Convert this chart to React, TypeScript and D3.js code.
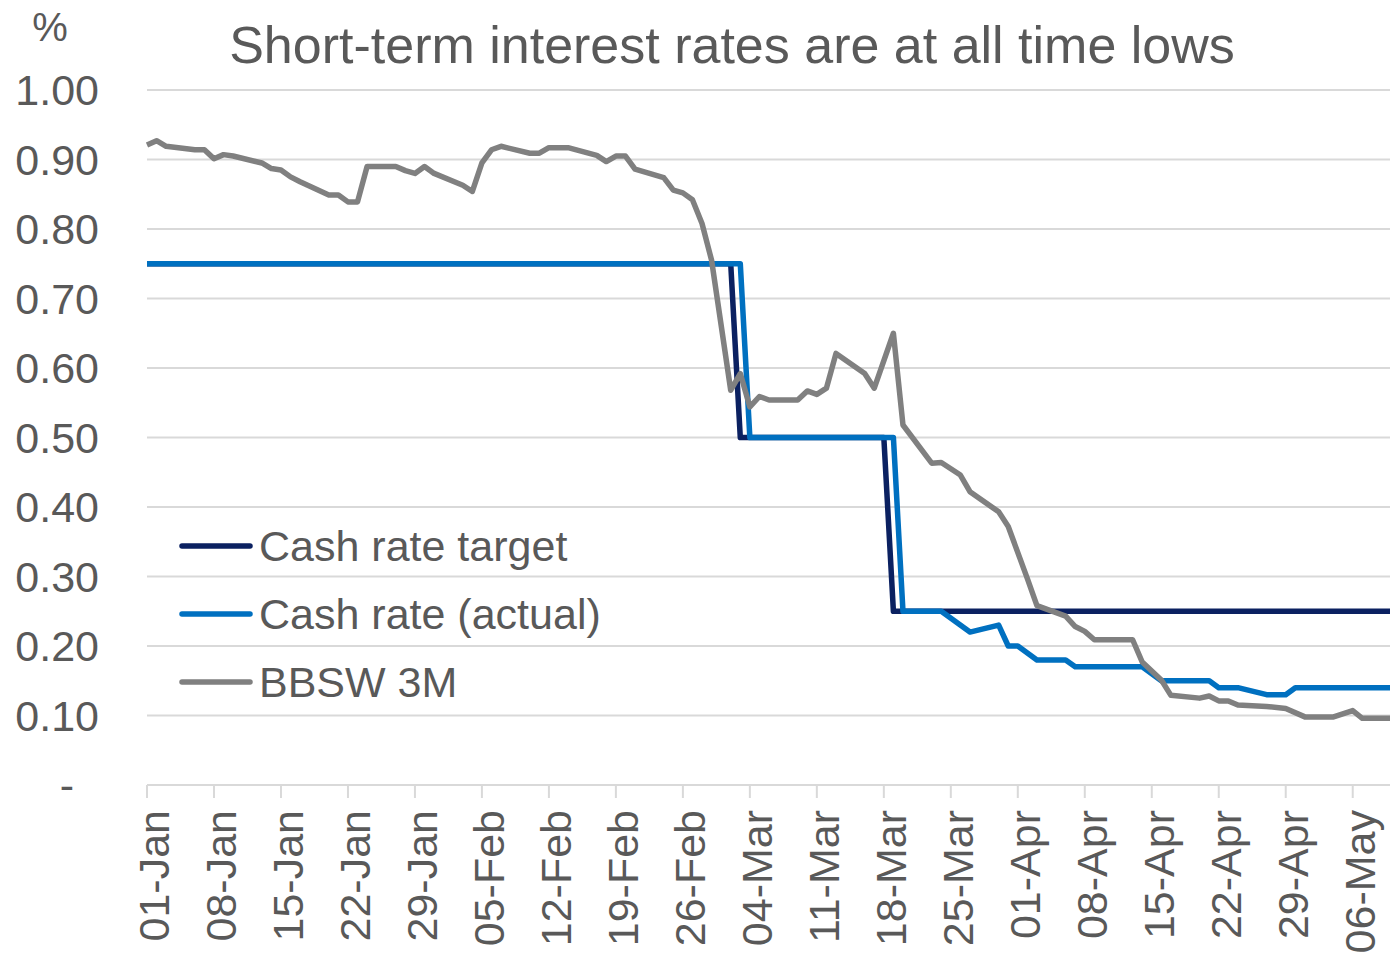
import * as d3 from "d3";

// Cash rate target (RBA)
const targetDates = ["2020-01-01", "2020-03-02", "2020-03-03", "2020-03-18", "2020-03-19", "2020-05-10"];
const targetValues = [0.75, 0.75, 0.5, 0.5, 0.25, 0.25];

// Cash rate (actual)
const actualDates = [
  "2020-01-01", "2020-03-03", "2020-03-04", "2020-03-19", "2020-03-20", "2020-03-24",
  "2020-03-27", "2020-03-30", "2020-03-31", "2020-04-01", "2020-04-03", "2020-04-06",
  "2020-04-07", "2020-04-14", "2020-04-16", "2020-04-21", "2020-04-22", "2020-04-24",
  "2020-04-27", "2020-04-29", "2020-04-30", "2020-05-10",
];
const actualValues = [
  0.75, 0.75, 0.5, 0.5, 0.25, 0.25,
  0.22, 0.23, 0.2, 0.2, 0.18, 0.18,
  0.17, 0.17, 0.15, 0.15, 0.14, 0.14,
  0.13, 0.13, 0.14, 0.14,
];

// BBSW 3M
const bbswDates = [
  "2020-01-01", "2020-01-02", "2020-01-03", "2020-01-06", "2020-01-07", "2020-01-08",
  "2020-01-09", "2020-01-10", "2020-01-13", "2020-01-14", "2020-01-15", "2020-01-16",
  "2020-01-17", "2020-01-20", "2020-01-21", "2020-01-22", "2020-01-23", "2020-01-24",
  "2020-01-27", "2020-01-28", "2020-01-29", "2020-01-30", "2020-01-31", "2020-02-03",
  "2020-02-04", "2020-02-05", "2020-02-06", "2020-02-07", "2020-02-10", "2020-02-11",
  "2020-02-12", "2020-02-14", "2020-02-17", "2020-02-18", "2020-02-19", "2020-02-20",
  "2020-02-21", "2020-02-24", "2020-02-25", "2020-02-26", "2020-02-27", "2020-02-28",
  "2020-02-29", "2020-03-02", "2020-03-03", "2020-03-04", "2020-03-05", "2020-03-06",
  "2020-03-09", "2020-03-10", "2020-03-11", "2020-03-12", "2020-03-13", "2020-03-16",
  "2020-03-17", "2020-03-19", "2020-03-20", "2020-03-23", "2020-03-24", "2020-03-26",
  "2020-03-27", "2020-03-30", "2020-03-31", "2020-04-02", "2020-04-03", "2020-04-06",
  "2020-04-07", "2020-04-08", "2020-04-09", "2020-04-13", "2020-04-14", "2020-04-16",
  "2020-04-17", "2020-04-20", "2020-04-21", "2020-04-22", "2020-04-23", "2020-04-24",
  "2020-04-27", "2020-04-29", "2020-05-01", "2020-05-04", "2020-05-06", "2020-05-07",
  "2020-05-10",
];
const bbswValues = [
  0.921, 0.927, 0.919, 0.914, 0.914, 0.901,
  0.907, 0.905, 0.895, 0.887, 0.885, 0.875,
  0.868, 0.849, 0.849, 0.839, 0.839, 0.89,
  0.89, 0.884, 0.88, 0.89, 0.88, 0.863,
  0.854, 0.895, 0.914, 0.919, 0.909, 0.909,
  0.917, 0.917, 0.906, 0.897, 0.905, 0.905,
  0.886, 0.874, 0.856, 0.852, 0.842, 0.808,
  0.755, 0.568, 0.592, 0.544, 0.559, 0.554,
  0.554, 0.567, 0.562, 0.571, 0.621, 0.592,
  0.571, 0.65, 0.518, 0.463, 0.464, 0.446,
  0.422, 0.393, 0.372, 0.297, 0.258, 0.243,
  0.228, 0.221, 0.209, 0.209, 0.177, 0.151,
  0.129, 0.125, 0.128, 0.121, 0.121, 0.115,
  0.113, 0.11, 0.098, 0.098, 0.107, 0.096,
  0.096,
];

const tickLabels = [
  "01-Jan", "08-Jan", "15-Jan", "22-Jan", "29-Jan", "05-Feb", "12-Feb", "19-Feb", "26-Feb",
  "04-Mar", "11-Mar", "18-Mar", "25-Mar", "01-Apr", "08-Apr", "15-Apr", "22-Apr", "29-Apr", "06-May",
];
const yTicks = [0, 0.1, 0.2, 0.3, 0.4, 0.5, 0.6, 0.7, 0.8, 0.9, 1.0];

const seriesNames = ["Cash rate target", "Cash rate (actual)", "BBSW 3M"];
const seriesColors = ["#0b2161", "#0070c0", "#808080"];

const FONT = "'Liberation Sans', Arial, sans-serif";
const TEXT = "#595959";
const GRID = "#d9d9d9";

const parse = d3.timeParse("%Y-%m-%d");
const parseTick = d3.timeParse("%d-%b-%Y");

export default function App() {
  const width = 1390;
  const height = 955;

  const x = d3.scaleTime()
    .domain([parse("2020-01-01")!, parse("2020-05-10")!])
    .range([147, 1391]);
  const y = d3.scaleLinear().domain([0, 1]).range([785, 90]);

  const series = [
    { dates: targetDates, values: targetValues },
    { dates: actualDates, values: actualValues },
    { dates: bbswDates, values: bbswValues },
  ].map((s) => s.dates.map((d, i) => [parse(d)!, s.values[i]] as [Date, number]));

  const line = d3.line<[Date, number]>()
    .x((d) => x(d[0]))
    .y((d) => y(d[1]));

  return (
    <svg
      width={width}
      height={height}
      style={{ position: "absolute", left: 0, top: 0, background: "#fff" }}
      fontFamily={FONT}
    >
      <rect width={width} height={height} fill="#fff" />

      {/* title + unit */}
      <text x={732} y={63} textAnchor="middle" fontSize={52} fill={TEXT}>
        Short-term interest rates are at all time lows
      </text>
      <text x={50} y={41} textAnchor="middle" fontSize={40} fill={TEXT}>%</text>

      {/* gridlines */}
      {yTicks.filter((v) => v > 0).map((v) => (
        <line key={v} x1={147} x2={width} y1={y(v)} y2={y(v)} stroke={GRID} strokeWidth={2} />
      ))}

      {/* y labels */}
      {yTicks.map((v) => (
        <text
          key={"yl" + v}
          x={v === 0 ? 74 : 99}
          y={y(v)}
          dy="0.35em"
          textAnchor="end"
          fontSize={43}
          fill={TEXT}
        >
          {v === 0 ? "-" : v.toFixed(2)}
        </text>
      ))}

      {/* x axis */}
      <line x1={147} x2={width} y1={y(0)} y2={y(0)} stroke={GRID} strokeWidth={2} />
      {tickLabels.map((t) => {
        const tx = x(parseTick(t + "-2020")!);
        return (
          <g key={t}>
            <line x1={tx} x2={tx} y1={y(0)} y2={y(0) + 13} stroke={GRID} strokeWidth={2} />
            <text
              transform={`translate(${tx + 22},810) rotate(-90)`}
              textAnchor="end"
              fontSize={43}
              fill={TEXT}
            >
              {t}
            </text>
          </g>
        );
      })}

      {/* series */}
      {series.map((s, i) => (
        <path
          key={seriesNames[i]}
          d={line(s) ?? ""}
          fill="none"
          stroke={seriesColors[i]}
          strokeWidth={5.5}
          strokeLinejoin="round"
        />
      ))}

      {/* legend */}
      {seriesNames.map((n, i) => {
        const ly = 546 + i * 68;
        return (
          <g key={"lg" + n}>
            <line x1={182} x2={250} y1={ly} y2={ly} stroke={seriesColors[i]} strokeWidth={5.5} strokeLinecap="round" />
            <text x={259} y={ly} dy="0.35em" fontSize={43} fill={TEXT}>{n}</text>
          </g>
        );
      })}
    </svg>
  );
}
